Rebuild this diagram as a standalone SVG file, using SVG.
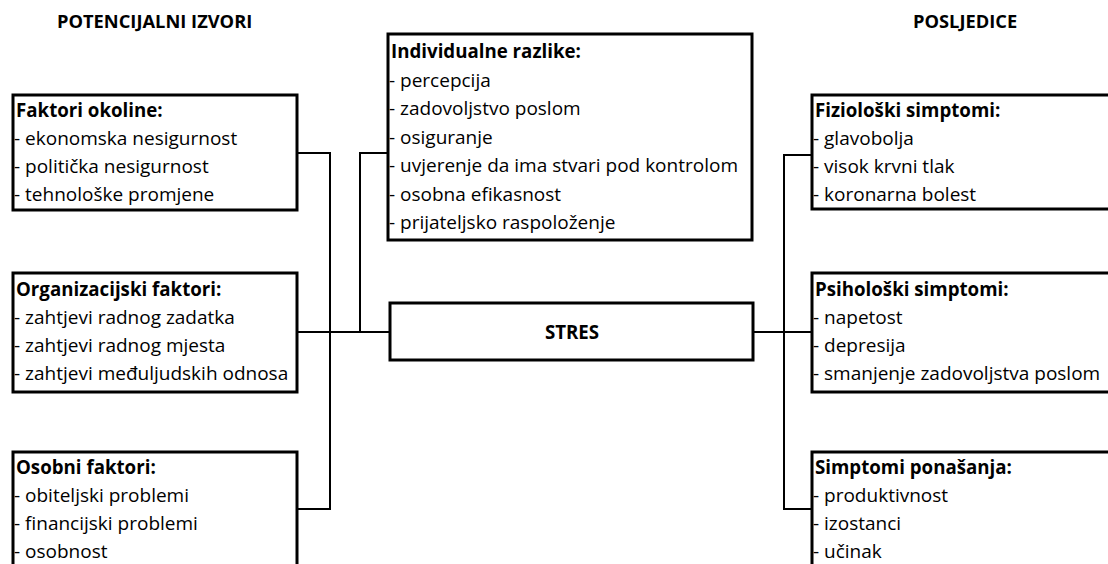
<svg xmlns="http://www.w3.org/2000/svg" width="1108" height="564" viewBox="0 0 1108 564">
<style>
.box{fill:#fff;stroke:#000;stroke-width:3}
.con{fill:none;stroke:#000;stroke-width:2}
text{font-family:"Open Sans","Noto Sans",sans-serif;font-size:19px;fill:#000}
.h{font-weight:bold;font-size:18.7px}
.t{font-weight:bold;font-size:18.3px}
</style>
<rect width="1108" height="564" fill="#fff"/>
<g id="titles">
<text class="t" x="57" y="28">POTENCIJALNI IZVORI</text>
<text class="t" x="913" y="28">POSLJEDICE</text>
</g>
<g id="connectors">
<polyline class="con" points="297,153 330,153 330,509 297,509"/>
<line class="con" x1="297" y1="332" x2="390" y2="332"/>
<polyline class="con" points="388,153 360,153 360,332"/>
<line class="con" x1="753" y1="332" x2="812" y2="332"/>
<polyline class="con" points="812,155 784,155 784,509 812,509"/>
</g>
<g id="faktori-okoline">
<rect class="box" x="13" y="95" width="284" height="115"/>
<text class="h" x="16" y="117">Faktori okoline:</text>
<text x="14" y="145">- ekonomska nesigurnost</text>
<text x="14" y="173">- politička nesigurnost</text>
<text x="14" y="201">- tehnološke promjene</text>
</g>
<g id="organizacijski-faktori">
<rect class="box" x="13" y="273" width="284" height="119"/>
<text class="h" x="16" y="296">Organizacijski faktori:</text>
<text x="14" y="324">- zahtjevi radnog zadatka</text>
<text x="14" y="352">- zahtjevi radnog mjesta</text>
<text x="14" y="380">- zahtjevi međuljudskih odnosa</text>
</g>
<g id="osobni-faktori">
<rect class="box" x="13" y="452" width="284" height="130"/>
<text class="h" x="16" y="474">Osobni faktori:</text>
<text x="14" y="502">- obiteljski problemi</text>
<text x="14" y="530">- financijski problemi</text>
<text x="14" y="558">- osobnost</text>
</g>
<g id="individualne-razlike">
<rect class="box" x="388" y="34" width="364" height="206"/>
<text class="h" x="391" y="58">Individualne razlike:</text>
<text x="389" y="86.5">- percepcija</text>
<text x="389" y="115">- zadovoljstvo poslom</text>
<text x="389" y="143.5">- osiguranje</text>
<text x="389" y="172">- uvjerenje da ima stvari pod kontrolom</text>
<text x="389" y="200.5">- osobna efikasnost</text>
<text x="389" y="229">- prijateljsko raspoloženje</text>
</g>
<g id="stres">
<rect class="box" x="390" y="303" width="363" height="57"/>
<text class="h" x="572" y="339" text-anchor="middle">STRES</text>
</g>
<g id="fizioloski-simptomi">
<rect class="box" x="812" y="95" width="320" height="114"/>
<text class="h" x="815" y="117">Fiziološki simptomi:</text>
<text x="813" y="145">- glavobolja</text>
<text x="813" y="173">- visok krvni tlak</text>
<text x="813" y="201">- koronarna bolest</text>
</g>
<g id="psiholoski-simptomi">
<rect class="box" x="812" y="273" width="320" height="119"/>
<text class="h" x="815" y="296">Psihološki simptomi:</text>
<text x="813" y="324">- napetost</text>
<text x="813" y="352">- depresija</text>
<text x="813" y="380">- smanjenje zadovoljstva poslom</text>
</g>
<g id="simptomi-ponasanja">
<rect class="box" x="812" y="452" width="320" height="130"/>
<text class="h" x="815" y="474">Simptomi ponašanja:</text>
<text x="813" y="502">- produktivnost</text>
<text x="813" y="530">- izostanci</text>
<text x="813" y="558">- učinak</text>
</g>
</svg>
